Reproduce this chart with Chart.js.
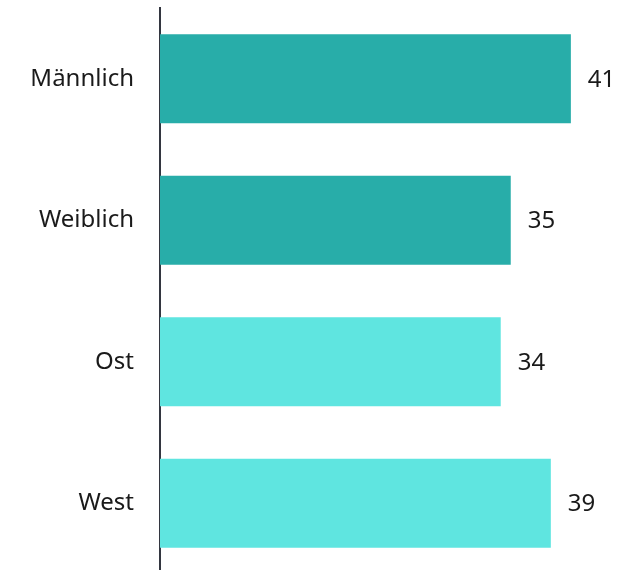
<!DOCTYPE html>
<html>
<head>
<meta charset="utf-8">
<script src="https://cdn.jsdelivr.net/npm/chart.js@4"></script>
<style>
  html, body { margin: 0; padding: 0; background: #fff; overflow: hidden; }
  #wrap { width: 630px; height: 574px; position: relative; }
</style>
</head>
<body>
<div id="wrap"><canvas id="chart"></canvas></div>
<script>
// ── Data ─────────────────────────────────
const categories = ["Männlich", "Weiblich", "Ost", "West"];
const values     = [41, 35, 34, 39];
const barColors  = ["#28ADA9", "#28ADA9", "#5FE5E0", "#5FE5E0"];

const FONT = "'Noto Sans', 'Open Sans', sans-serif";

// ── Category + value labels ──────────────
// drawn by hand so the tick padding doesn't shrink the plot vertically
const barLabels = {
  id: "barLabels",
  afterDatasetsDraw(chart) {
    const ctx  = chart.ctx;
    const meta = chart.getDatasetMeta(0);
    const yScale = chart.scales.y;
    ctx.save();
    ctx.font = "24px " + FONT;
    ctx.fillStyle = "#1a1a1a";
    ctx.textBaseline = "middle";
    meta.data.forEach((bar, i) => {
      ctx.textAlign = "right";
      ctx.fillText(categories[i], yScale.right - 26, bar.y);
      ctx.textAlign = "left";
      ctx.fillText(String(values[i]), bar.x + 17, bar.y + 1);
    });
    ctx.restore();
  }
};

new Chart(document.getElementById("chart"), {
  type: "bar",
  data: {
    labels: categories,
    datasets: [{
      data: values,
      backgroundColor: barColors,
      borderWidth: 0,
      categoryPercentage: 1,
      barPercentage: 0.63,
    }]
  },
  options: {
    indexAxis: "y",
    responsive: true,
    maintainAspectRatio: false,
    animation: false,
    layout: { padding: { top: 8, right: 0, bottom: 0, left: 0 } },
    plugins: { legend: { display: false }, tooltip: { enabled: false } },
    scales: {
      x: { display: false, min: 0, max: 46.9 },
      y: {
        grid: { display: false },
        border: { display: true, color: "#333640", width: 2 },
        ticks: { display: false },
        afterFit(scale) { scale.width = 160; }
      }
    }
  },
  plugins: [barLabels]
});
</script>
</body>
</html>
